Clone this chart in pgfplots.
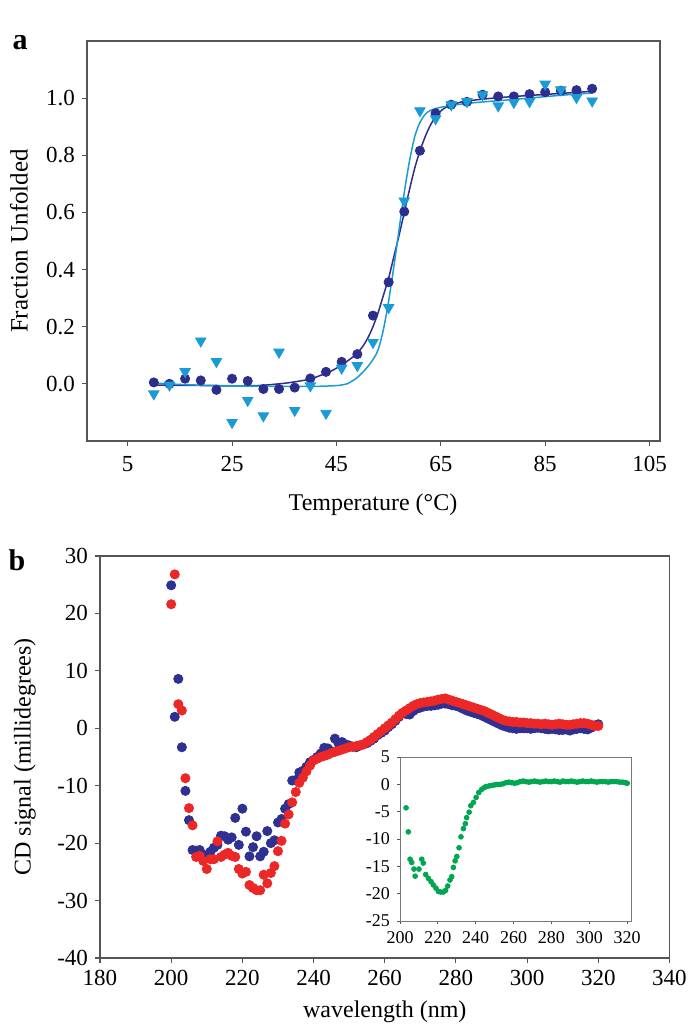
\documentclass[border=0pt]{standalone}
\usepackage{fontspec}
\setmainfont{Liberation Serif}
\usepackage{pgfplots}
\usepackage{pgfplotstable}
\pgfplotsset{compat=1.18}
\definecolor{navy}{RGB}{45,46,140}
\definecolor{lblue}{RGB}{27,155,214}
\definecolor{bblue}{RGB}{46,49,146}
\definecolor{bred}{RGB}{236,39,39}
\definecolor{bgreen}{RGB}{0,166,81}
\definecolor{axgray}{RGB}{85,85,85}

\pgfplotstableread{
T f
10 0.005
13 0.0
16 0.018
19 0.012
22 -0.021
25 0.018
28 0.010
31 -0.018
34 -0.018
37 -0.013
40 0.019
43 0.042
46 0.077
49 0.104
52 0.239
55 0.356
58 0.603
61 0.816
64 0.947
67 0.977
70 0.987
73 1.012
76 1.006
79 1.006
82 1.014
85 1.021
88 1.026
91 1.028
94 1.033
}\circdata

\pgfplotstableread{
T f
10 -0.035
13 -0.004
16 0.043
19 0.150
22 0.078
25 -0.135
28 -0.058
31 -0.112
34 0.111
37 -0.093
40 -0.007
43 -0.103
46 0.055
49 0.064
52 0.145
55 0.267
58 0.640
61 0.956
64 0.928
67 0.977
70 0.988
73 1.012
76 0.973
79 0.985
82 0.988
85 1.049
88 1.029
91 1.002
94 0.990
}\tridata

\pgfplotstableread{
w b
200 24.9
201 2.0
202 8.6
203 -3.3
204 -10.9
205 -16.0
206 -21.2
207 -21.3
208 -21.2
209 -22.0
210 -22.4
211 -21.5
212 -20.8
213 -20.3
214 -18.7
215 -18.8
216 -19.4
217 -19.0
218 -15.6
219 -20.3
220 -14.0
221 -18.0
222 -22.3
223 -20.7
224 -18.8
225 -22.3
226 -21.5
227 -17.9
228 -20.0
229 -19.5
230 -16.4
231 -15.8
232 -14.0
233 -13.2
234 -9.1
235 -9.0
236 -7.7
237 -7.4
238 -6.7
239 -5.9
240 -5.5
241 -5.0
242 -4.4
243 -3.4
244 -3.5
245 -4.0
246 -1.8
247 -2.6
248 -2.4
249 -2.8
250 -3.0
251 -3.2
252 -3.3
253 -3.0
254 -2.8
255 -2.6
256 -2.2
257 -1.8
258 -1.2
259 -0.8
260 -0.4
261 0.2
262 0.7
263 1.3
264 2.0
265 2.6
266 2.5
267 2.4
268 3.0
269 3.4
270 3.6
271 3.8
272 3.9
273 3.9
274 4.0
275 4.1
276 4.3
277 4.3
278 4.2
279 4.0
280 3.9
281 3.7
282 3.4
283 3.1
284 2.9
285 2.7
286 2.5
287 2.3
288 2.0
289 1.7
290 1.4
291 1.1
292 0.8
293 0.5
294 0.3
295 0.1
296 0.0
297 -0.1
298 0.0
299 0.0
300 0.0
301 -0.1
302 0.0
303 0.1
304 0.0
305 -0.1
306 -0.2
307 -0.1
308 -0.2
309 -0.3
310 -0.3
311 -0.2
312 -0.4
313 -0.2
314 -0.1
315 0.0
316 -0.1
317 -0.2
318 0.1
319 0.5
320 0.7
}\bluedata

\pgfplotstableread{
w r
200 21.6
201 26.8
202 4.2
203 3.1
204 -8.7
205 -13.9
206 -16.9
207 -22.4
208 -22.2
209 -23.1
210 -24.5
211 -22.8
212 -22.8
213 -19.7
214 -22.4
215 -22.0
216 -21.7
217 -22.2
218 -22.4
219 -24.5
220 -25.3
221 -25.0
222 -27.3
223 -27.8
224 -28.2
225 -28.2
226 -25.5
227 -27.0
228 -25.2
229 -24.0
230 -21.4
231 -19.6
232 -16.6
233 -15.0
234 -12.9
235 -11.1
236 -9.5
237 -8.6
238 -7.5
239 -6.5
240 -5.6
241 -5.3
242 -5.0
243 -4.8
244 -4.6
245 -4.3
246 -4.1
247 -3.9
248 -3.7
249 -3.5
250 -3.3
251 -3.2
252 -3.1
253 -3.0
254 -2.8
255 -2.4
256 -2.0
257 -1.5
258 -1.0
259 -0.5
260 0.0
261 0.5
262 1.0
263 1.6
264 2.2
265 2.7
266 3.1
267 3.5
268 3.9
269 4.2
270 4.4
271 4.5
272 4.6
273 4.7
274 4.8
275 5.0
276 5.1
277 5.2
278 5.0
279 4.8
280 4.6
281 4.4
282 4.2
283 4.0
284 3.8
285 3.6
286 3.4
287 3.2
288 3.0
289 2.7
290 2.4
291 2.1
292 1.8
293 1.5
294 1.3
295 1.2
296 1.1
297 1.1
298 1.0
299 1.0
300 0.9
301 0.9
302 0.8
303 0.8
304 0.7
305 0.8
306 0.7
307 0.6
308 0.7
309 0.8
310 0.7
311 0.6
312 0.6
313 0.7
314 0.8
315 0.9
316 0.9
317 0.8
318 0.6
319 0.4
320 0.4
}\reddata

\pgfplotstableread{
w g
203.2 -4.3
204.4 -8.7
205.3 -13.7
206.2 -14.3
207.4 -15.5
208.0 -16.8
210.0 -15.5
211.5 -13.7
212.3 -14.4
213.6 -16.5
215.0 -17.2
216.4 -17.8
217.6 -18.4
219.0 -19.0
220.3 -19.6
221.5 -19.7
222.9 -19.7
224.1 -19.4
225.2 -18.6
226.4 -17.5
227.3 -16.9
228.2 -15.2
229.1 -14.0
230.0 -13.2
231.2 -11.6
232.2 -9.6
233.5 -8.1
234.5 -7.2
235.2 -6.1
236.5 -5.1
237.4 -3.9
238.8 -3.3
240.2 -2.4
241.6 -1.5
243.2 -0.9
244.5 -0.6
245.5 -0.4
247.0 -0.3
248.5 -0.2
250.0 -0.1
251.5 0.0
253.0 0.0
254.5 0.1
256.0 0.3
257.5 0.4
259.0 0.3
260.5 0.2
262.0 0.3
263.5 0.5
265.0 0.6
266.5 0.5
268.0 0.4
269.5 0.5
271.0 0.6
272.5 0.5
274.0 0.4
275.5 0.5
277.0 0.6
278.5 0.5
280.0 0.5
281.5 0.6
283.0 0.5
284.5 0.4
286.0 0.6
287.5 0.5
289.0 0.5
290.5 0.6
292.0 0.5
293.5 0.4
295.0 0.5
296.5 0.6
298.0 0.5
299.5 0.5
301.0 0.6
302.5 0.5
304.0 0.4
305.5 0.5
307.0 0.5
308.5 0.5
310.0 0.4
311.5 0.5
313.0 0.5
314.5 0.5
316.0 0.4
317.5 0.4
319.0 0.3
320.0 0.2
}\greendata

\pgfplotsset{
  myaxis/.style={
    scale only axis,
    anchor=south west,
    axis line style={axgray, line width=0.55pt},
    every tick/.style={axgray, line width=0.55pt},
    tick align=outside,
    xtick pos=bottom, ytick pos=left,
    major tick length=2.5pt,
    /pgf/number format/assume math mode=true,
    clip=false,
  }
}

\begin{document}
\begin{tikzpicture}[x=1pt,y=1pt]
\useasboundingbox (0,0) rectangle (347,515);

% ---------- panel a ----------
\begin{axis}[myaxis,
  at={(43.5pt,294.5pt)},
  width=286.5pt, height=200pt,
  xmin=-2.8, xmax=107, ymin=-0.2, ymax=1.2,
  xtick={5,25,45,65,85,105},
  ytick={0,0.2,0.4,0.6,0.8,1},
  yticklabel style={/pgf/number format/fixed, /pgf/number format/fixed zerofill, /pgf/number format/precision=1},
  ticklabel style={font=\fontsize{11.5}{13}\selectfont},
  xticklabel style={yshift=-1.5pt},
]
\addplot[only marks, mark=*, mark size=2.3pt, navy, mark options={draw=navy, fill=navy}] table[x=T,y=f]{\circdata};
\addplot[only marks, mark=triangle*, mark size=3pt, lblue, mark options={draw=lblue, fill=lblue, rotate=180}] table[x=T,y=f]{\tridata};
\addplot[navy, line width=0.75pt, smooth, no marks] coordinates {
(10,-0.004) (15,-0.005) (20,-0.006) (25,-0.007) (30,-0.006) (35,0.002) (38,0.01) (40,0.017) (42,0.03) (44,0.045) (46,0.066) (48,0.092) (49,0.108) (50,0.13) (51,0.16) (52,0.2) (53,0.25) (54,0.31) (55,0.37) (56,0.445) (57,0.52) (58,0.6) (59,0.68) (60,0.755) (61,0.815) (62,0.865) (63,0.905) (64,0.935) (65,0.955) (66,0.968) (68,0.982) (70,0.99) (75,1.0) (80,1.007) (85,1.013) (90,1.019) (94,1.024)};
\addplot[lblue, line width=0.75pt, smooth, no marks] coordinates {
(10,0.003) (15,-0.002) (20,-0.005) (30,-0.008) (40,-0.009) (45,-0.006) (47,0.0) (48,0.01) (49,0.022) (50,0.04) (51,0.06) (52,0.085) (53,0.12) (54,0.19) (55,0.29) (56,0.41) (57,0.54) (58,0.67) (59,0.78) (60,0.865) (61,0.915) (62,0.943) (63,0.957) (65,0.968) (68,0.977) (72,0.985) (80,0.997) (88,1.01) (94,1.018)};
\end{axis}

% ---------- panel b ----------
\begin{axis}[myaxis,
  at={(50pt,36pt)},
  width=284.75pt, height=201pt,
  xmin=180, xmax=340, ymin=-40, ymax=30,
  xtick={180,200,...,340},
  ytick={-40,-30,...,30},
  ticklabel style={font=\fontsize{11.5}{13}\selectfont},
]
\addplot[only marks, mark=*, mark size=2.3pt, mark options={draw=bblue, fill=bblue}] table[x=w,y=b]{\bluedata};
\addplot[only marks, mark=*, mark size=2.3pt, mark options={draw=bred, fill=bred}] table[x=w,y=r]{\reddata};
\end{axis}

% ---------- inset ----------
\begin{axis}[myaxis,
  at={(200pt,54.5pt)},
  width=115.5pt, height=82pt,
  axis line style={axgray!80, line width=0.4pt},
  every tick/.style={axgray, line width=0.4pt},
  major tick length=1.5pt,
  xmin=200, xmax=322, ymin=-25, ymax=5,
  xtick={200,220,...,320},
  ytick={-25,-20,...,5},
  ticklabel style={font=\fontsize{9}{10}\selectfont},
  axis background/.style={fill=white},
]
\addplot[only marks, mark=*, mark size=1.2pt, mark options={draw=bgreen, fill=bgreen}] table[x=w,y=g]{\greendata};
\end{axis}

% ---------- labels ----------
\node[font=\bfseries\fontsize{15}{18}\selectfont] at (10,493.5) {a};
\node[font=\bfseries\fontsize{15}{18}\selectfont] at (8.5,235) {b};
\node[rotate=90, font=\fontsize{12.5}{14}\selectfont] at (9.5,394.5) {Fraction Unfolded};
\node[font=\fontsize{12}{14}\selectfont] at (186.5,262.5) {Temperature (°C)};
\node[rotate=90, font=\fontsize{12}{14}\selectfont] at (12.5,136.5) {CD signal (millidegrees)};
\node[font=\fontsize{12}{14}\selectfont] at (192.4,9) {wavelength (nm)};
\end{tikzpicture}
\end{document}
